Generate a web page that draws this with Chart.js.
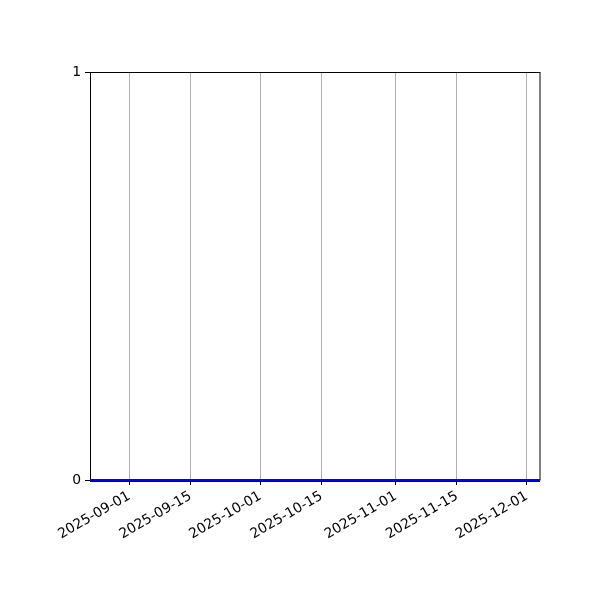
<!DOCTYPE html>
<html><head><meta charset="utf-8">
<script src="https://cdn.jsdelivr.net/npm/chart.js@4"></script>
<style>html,body{margin:0;padding:0;background:#fff}#wrap{width:600px;height:600px}</style>
</head><body><div id="wrap"><canvas id="c" width="600" height="600"></canvas></div>
<script>
const dates = ['2025-08-23','2025-09-01','2025-09-15','2025-10-01','2025-10-15','2025-11-01','2025-11-15','2025-12-01','2025-12-04'];
const values = [0,0,0,0,0,0,0,0,0];
const xTickLabels = ['2025-09-01','2025-09-15','2025-10-01','2025-10-15','2025-11-01','2025-11-15','2025-12-01'];
const yTickValues = [0,1];

const ORIGIN = Date.UTC(2025,8,1);
function dayNum(s){const p=s.split('-').map(Number);return (Date.UTC(p[0],p[1]-1,p[2])-ORIGIN)/86400000;}
const xTickVals = xTickLabels.map(dayNum);
const pts = dates.map((d,i)=>({x:dayNum(d),y:values[i]}));

const frame = {id:'frame',
  beforeDatasetsDraw(ch){const a=ch.chartArea,c=ch.ctx;c.save();c.strokeStyle='#000';c.lineWidth=1;c.strokeRect(Math.round(a.left)+0.5,Math.round(a.top)+0.5,Math.round(a.right-a.left)-0.5,Math.round(a.bottom-a.top)-0.5);c.restore();},
  afterDatasetsDraw(ch){const a=ch.chartArea,c=ch.ctx;c.save();c.strokeStyle='#000';c.lineWidth=1;c.beginPath();c.moveTo(Math.round(a.left),Math.round(a.bottom)+1.5);c.lineTo(Math.round(a.right),Math.round(a.bottom)+1.5);c.stroke();c.restore();}
};

const font = {family:'"DejaVu Sans", sans-serif', size:13.9};
new Chart(document.getElementById('c'),{
  type:'line',
  data:{datasets:[{data:pts,borderColor:'#0000ff',borderWidth:2,pointRadius:0,tension:0,fill:false,clip:4}]},
  options:{
    responsive:false,animation:false,
    layout:{padding:{top:72,right:60,left:0,bottom:0}},
    plugins:{legend:{display:false},tooltip:{enabled:false}},
    scales:{
      x:{type:'linear',min:dayNum(dates[0]),max:dayNum(dates[dates.length-1]),
        afterBuildTicks(s){s.ticks=xTickVals.map(v=>({value:v}));},
        afterFit(s){s.height=120;},
        ticks:{autoSkip:false,maxRotation:30,minRotation:30,color:'#000',font,padding:3,
          callback:(v)=>{const i=xTickVals.indexOf(v);return i>=0?xTickLabels[i]:'';}},
        grid:{color:'#b0b0b0',lineWidth:1,tickColor:'#000',tickLength:5,drawOnChartArea:true},
        border:{display:false}
      },
      y:{type:'linear',min:0,max:1,
        afterBuildTicks(s){s.ticks=yTickValues.map(v=>({value:v}));},
        afterFit(s){s.width=90;},
        ticks:{color:'#000',font,padding:4},
        grid:{drawOnChartArea:false,tickColor:'#000',tickLength:5},
        border:{display:false}
      }
    }
  },
  plugins:[frame]
});
</script></body></html>
